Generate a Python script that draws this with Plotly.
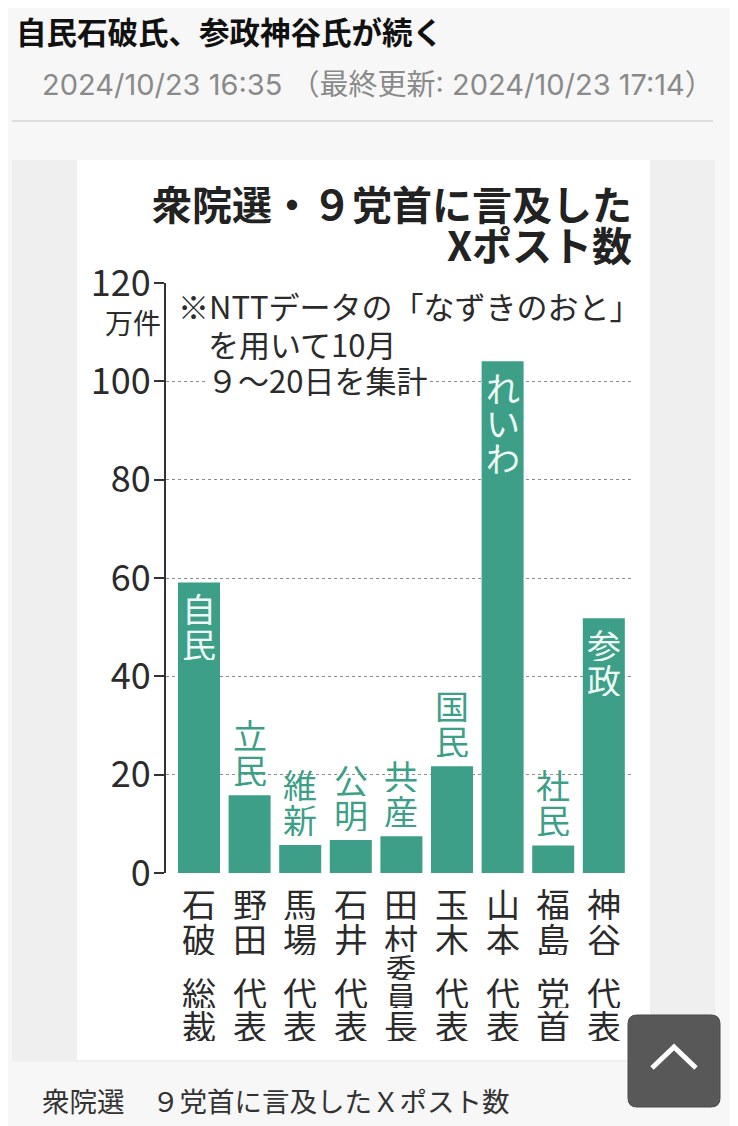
import plotly.graph_objects as go

# ---------------- data ----------------
categories = ["石破総裁", "野田代表", "馬場代表", "石井代表", "田村委員長",
              "玉木代表", "山本代表", "福島党首", "神谷代表"]
parties = ["自民", "立民", "維新", "公明", "共産", "国民", "れいわ", "社民", "参政"]
values = [59.1, 15.8, 5.7, 6.7, 7.5, 21.7, 104.1, 5.6, 51.8]   # 万件
y_ticks = [0, 20, 40, 60, 80, 100, 120]
y_tick_labels = ["0", "20", "40", "60", "80", "100", "120"]

page_title = "自民石破氏、参政神谷氏が続く"
date_text = "2024/10/23 16:35 （最終更新: 2024/10/23 17:14）"
chart_title_1 = "衆院選・９党首に言及した"
chart_title_2 = "Xポスト数"
note_lines = ["※NTTデータの「なずきのおと」", "を用いて10月", "９～20日を集計"]
unit_label = "万件"
caption = "衆院選　９党首に言及したＸポスト数"

# ---------------- style ----------------
OFF = 8                      # page body margin of the html page
W, H = 738 - OFF, 1126 - OFF
ML, MR, MT, MB = 166 - OFF, 106, 283 - OFF, 253
PW, PH = W - ML - MR, H - MT - MB
BAR = "#3d9f87"
INK = "#2b2b2b"
JP = "Noto Sans CJK JP"


def px(x):
    """screen x (page pixels) -> paper coordinate"""
    return (x - OFF - ML) / PW


def py(y):
    """screen y (page pixels) -> paper coordinate"""
    return (H - MB - (y - OFF)) / PH


fig = go.Figure()
fig.add_trace(go.Bar(
    x=categories, y=values, width=0.83,
    marker=dict(color=BAR, line=dict(width=0)),
    hoverinfo="skip",
))

shapes = [
    dict(type="line", xref="paper", yref="paper", x0=px(12), x1=px(713),
         y0=py(121), y1=py(121), line=dict(color="#dcdcdc", width=2), layer="below"),
    dict(type="rect", xref="paper", yref="paper", x0=px(12), x1=px(715),
         y0=py(1062), y1=py(160), fillcolor="#efefef", line=dict(width=0), layer="below"),
    dict(type="rect", xref="paper", yref="paper", x0=px(77), x1=px(650),
         y0=py(1060), y1=py(160), fillcolor="#ffffff", line=dict(width=0), layer="below"),
]

bx0, bx1, by0, by1, r = 628, 720, 1015, 1107, 9
path = (f"M {px(bx0 + r)} {py(by0)} L {px(bx1 - r)} {py(by0)} "
        f"Q {px(bx1)} {py(by0)} {px(bx1)} {py(by0 + r)} "
        f"L {px(bx1)} {py(by1 - r)} Q {px(bx1)} {py(by1)} {px(bx1 - r)} {py(by1)} "
        f"L {px(bx0 + r)} {py(by1)} Q {px(bx0)} {py(by1)} {px(bx0)} {py(by1 - r)} "
        f"L {px(bx0)} {py(by0 + r)} Q {px(bx0)} {py(by0)} {px(bx0 + r)} {py(by0)} Z")
shapes.append(dict(type="path", xref="paper", yref="paper", path=path,
                   fillcolor="#585858", line=dict(color="#4a4a4a", width=1), layer="above"))
chev = f"M {px(652)} {py(1068)} L {px(674)} {py(1047)} L {px(696)} {py(1068)}"
shapes.append(dict(type="path", xref="paper", yref="paper", path=chev,
                   line=dict(color="#ffffff", width=5), layer="above"))

ann = []


def text(x, y, s, size, color=INK, family=JP, anchor="left", bold=False, bg=None):
    if bold:
        s = f"<b>{s}</b>"
    d = dict(xref="paper", yref="paper", x=px(x), y=py(y), text=s, showarrow=False,
             xanchor=anchor, yanchor="middle",
             font=dict(size=size, color=color, family=family))
    if bg:
        d.update(bgcolor=bg, borderpad=0)
    ann.append(d)


text(14, 31, page_title, 30.5, color="#111111", bold=True)
text(40, 85, date_text, 29, color="#8a8a8a", family="Inter, 'Noto Sans CJK JP'")
text(40, 1100, caption, 27.5, color="#333333")
text(634, 203, chart_title_1, 40, color="#222222", bold=True, anchor="right")
text(634, 244, chart_title_2, 40, color="#222222", bold=True, anchor="right")
text(206, 379, note_lines[2], 31, bg="#ffffff")
text(176, 305, note_lines[0], 31)
text(206, 343, note_lines[1], 31)

ann.append(dict(xref="paper", yref="y", x=px(163), y=120, yshift=-39, text=unit_label,
                showarrow=False, xanchor="right", yanchor="middle",
                font=dict(size=28, color=INK, family=JP)))

PITCH = 35


def char_ann(cat, y, shift, ch, size, color, box):
    return dict(xref="x", yref="y", x=cat, y=y, yshift=shift, text=ch,
                showarrow=False, xanchor="center", yanchor="middle",
                height=box, width=size + 2, borderpad=0,
                font=dict(size=size, color=color, family=JP))


for cat, party, v in zip(categories, parties, values):
    chars = list(party)
    n = len(chars)
    inside = v > 40
    for i, ch in enumerate(chars):
        if inside:
            shift = -(26 + PITCH * i)
            col = "#eefaf6"
        else:
            shift = 26 + PITCH * (n - 1 - i)
            col = BAR
        ann.append(char_ann(cat, v, shift, ch, 34, col, PITCH - 1))

for cat in categories:
    chars = list(cat)
    if len(chars) == 4:
        offs = [30, 65, 119, 152]
        sizes = [34, 34, 34, 34]
        boxes = [34, 34, 32, 32]
    else:
        offs = [30, 65, 93, 121, 152]
        sizes = [34, 34, 30, 30, 34]
        boxes = [34, 27, 27, 27, 32]
    for ch, o, s, b in zip(chars, offs, sizes, boxes):
        ann.append(char_ann(cat, 0, -o, ch, s, INK, b))

fig.update_layout(
    width=W, height=H,
    margin=dict(l=ML, r=MR, t=MT, b=MB, pad=0),
    paper_bgcolor="#f7f7f7", plot_bgcolor="#ffffff",
    showlegend=False,
    shapes=shapes, annotations=ann,
    font=dict(family=JP, color=INK),
    xaxis=dict(range=[-0.652, 8.557], showticklabels=False, showgrid=False,
               zeroline=False, showline=False, ticks="", fixedrange=True),
    yaxis=dict(range=[0, 120], tickvals=y_ticks, ticktext=y_tick_labels,
               tickfont=dict(size=36, color=INK, family=JP),
               ticks="outside", ticklen=10, tickwidth=2, tickcolor="#333333",
               showline=True, linecolor="#333333", linewidth=2,
               showgrid=True, gridcolor="#8c8c8c", griddash="dot", gridwidth=1.2,
               zeroline=False, ticklabelstandoff=-4, fixedrange=True),
)

fig.write_html("out.html")
